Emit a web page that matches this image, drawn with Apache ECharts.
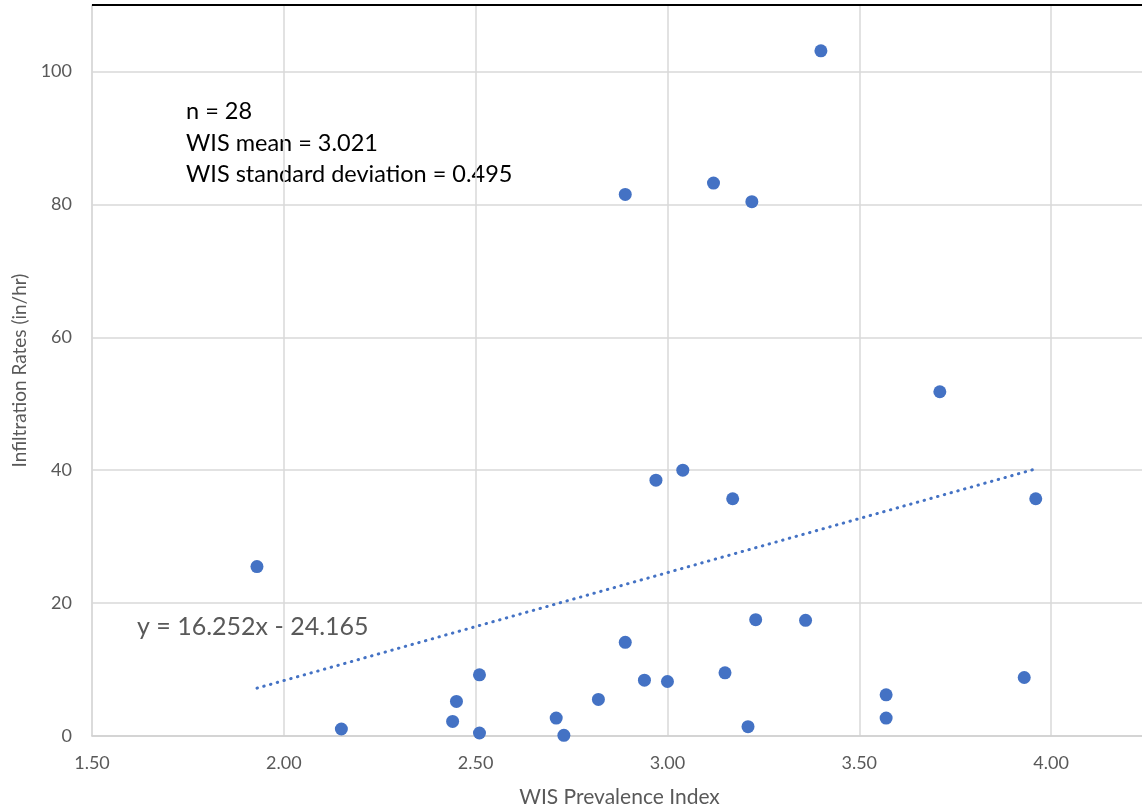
<!DOCTYPE html>
<html>
<head>
<meta charset="utf-8">
<script src="https://cdn.jsdelivr.net/npm/echarts@6/dist/echarts.min.js"></script>
<style>html,body{margin:0;padding:0;background:#fff;overflow:hidden}#c{width:1142px;height:812px}</style>
</head>
<body>
<div id="c"></div>
<script>
// WIS Prevalence Index values
const wisIndex = [1.93, 2.15, 2.44, 2.45, 2.51, 2.51, 2.71, 2.73, 2.82, 2.89, 2.94, 3.00, 3.15, 3.21,
                  3.23, 3.36, 3.57, 3.57, 3.93, 2.89, 3.12, 3.22, 2.97, 3.04, 3.17, 3.40, 3.71, 3.96];
// Infiltration rates (in/hr)
const infiltration = [25.5, 1.05, 2.2, 5.2, 9.2, 0.45, 2.7, 0.1, 5.5, 14.1, 8.4, 8.2, 9.5, 1.4,
                      17.5, 17.4, 6.2, 2.7, 8.8, 81.5, 83.2, 80.4, 38.5, 40.0, 35.7, 103.1, 51.8, 35.7];
// Linear trendline coefficients (as reported on the chart)
const trendSlope = 16.252;
const trendIntercept = -24.165;
// Annotation lines
const statsLines = ['n = 28', 'WIS mean = 3.021', 'WIS standard deviation = 0.495'];
const xTitle = 'WIS Prevalence Index';
const yTitle = 'Infiltration Rates (in/hr)';

const points = wisIndex.map((x, i) => [x, infiltration[i]]);
const xMin = Math.min(...wisIndex), xMax = Math.max(...wisIndex);
const trend = [[xMin, trendSlope * xMin + trendIntercept], [xMax, trendSlope * xMax + trendIntercept]];
const eqText = 'y = ' + trendSlope.toFixed(3) + 'x - ' + Math.abs(trendIntercept).toFixed(3);

const FONT = 'Lato, "Noto Sans", sans-serif';
const chart = echarts.init(document.getElementById('c'), null, {renderer: 'canvas'});
chart.setOption({
  animation: false,
  backgroundColor: '#fff',
  grid: {left: 92, top: 5, width: 1055, height: 731, outerBoundsMode: 'none', containLabel: false},
  xAxis: {
    type: 'value', min: 1.5, max: 4.25, interval: 0.5,
    name: xTitle, nameLocation: 'middle', nameGap: 51,
    nameTextStyle: {fontFamily: FONT, fontSize: 21, color: '#595959'},
    axisLine: {show: true, onZero: false, lineStyle: {color: '#d0d0d0', width: 1.5}},
    axisTick: {show: false},
    axisLabel: {fontFamily: FONT, fontSize: 18, color: '#595959', margin: 18, showMaxLabel: false,
                formatter: v => v.toFixed(2)},
    splitLine: {show: true, lineStyle: {color: '#d9d9d9', width: 1.5}}
  },
  yAxis: {
    type: 'value', min: 0, max: 110, interval: 20,
    name: yTitle, nameLocation: 'middle', nameGap: 62,
    nameTextStyle: {fontFamily: FONT, fontSize: 19, color: '#595959'},
    axisLine: {show: true, lineStyle: {color: '#d9d9d9', width: 1.5}},
    axisTick: {show: false},
    axisLabel: {fontFamily: FONT, fontSize: 18, color: '#595959', margin: 20, showMaxLabel: false},
    splitLine: {show: true, lineStyle: {color: '#d9d9d9', width: 1.5}}
  },
  series: [
    {
      type: 'line', data: trend, symbol: 'none', silent: true, z: 1,
      lineStyle: {color: '#4472C4', width: 3, type: [0.5, 6.5], cap: 'round'}
    },
    {
      type: 'scatter', data: points, symbol: 'circle', symbolSize: 13, z: 3,
      itemStyle: {color: '#4472C4', opacity: 1}
    }
  ],
  graphic: [
    {type: 'line', shape: {x1: 92, y1: 5, x2: 1142, y2: 5}, style: {stroke: '#000', lineWidth: 2}, z: 10},
    {type: 'text', left: 186, top: 96, style: {text: statsLines.join('\n'), fontFamily: FONT, fontSize: 23.5,
      lineHeight: 31.5, fill: '#000'}},
    {type: 'text', left: 137, top: 614, style: {text: eqText, fontFamily: FONT, fontSize: 25, fill: '#595959'}}
  ]
});
</script>
</body>
</html>
